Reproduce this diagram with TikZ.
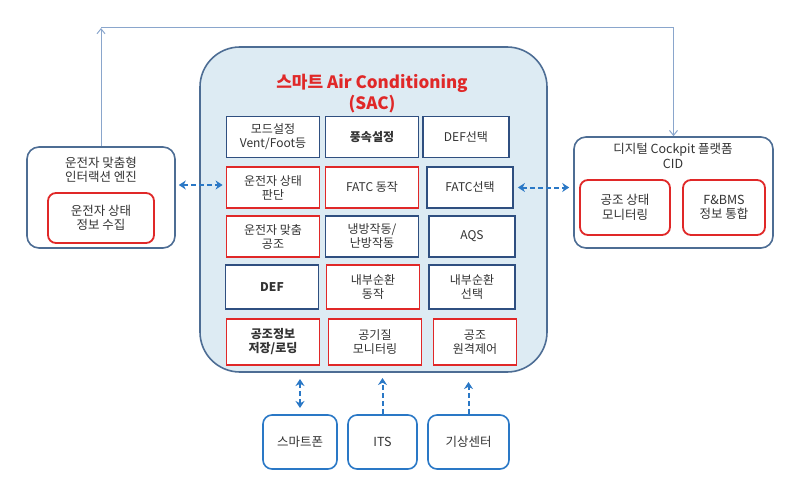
\documentclass[tikz,border=0pt]{standalone}
\usepackage{fontspec}
\setmainfont{Noto Sans CJK KR}
\usetikzlibrary{arrows.meta}
\definecolor{sacfill}{HTML}{DDEBF3}
\definecolor{sacline}{HTML}{4D6D94}
\definecolor{navy}{HTML}{2F4F80}
\definecolor{redbox}{HTML}{E02828}
\definecolor{linkblue}{HTML}{2A78C6}
\definecolor{topline}{HTML}{8AA6CC}
\definecolor{txt}{HTML}{333333}
\begin{document}
\begin{tikzpicture}[x=1pt,y=-1pt,
  every node/.style={text=txt, font=\fontsize{12.5}{14.5}\selectfont, align=center, inner sep=0pt},
  cell/.style={draw=navy, line width=1.8pt, fill=white, minimum width=93pt, minimum height=41pt, font=\fontsize{12}{14}\selectfont},
  redcell/.style={cell, draw=redbox},
  outer/.style={draw=sacline, line width=1.6pt, fill=white, rounded corners=12pt},
  inner/.style={draw=redbox, line width=1.8pt, fill=white, rounded corners=8pt},
  ext/.style={draw=linkblue, line width=1.6pt, fill=white, rounded corners=9pt, minimum width=74pt, minimum height=54pt},
  link/.style={draw=linkblue, line width=2pt, dash pattern=on 5pt off 3pt, {Stealth[length=7pt,width=9pt]}-{Stealth[length=7pt,width=9pt]}},
  uplink/.style={link, -{Stealth[length=7pt,width=9pt]}},
  feed/.style={draw=topline, line width=1pt, -{Straight Barb[length=5pt,width=8pt]}}]
\useasboundingbox (0,0) rectangle (807,495);
% Smart Air Conditioning
\node[draw=sacline, line width=1.6pt, fill=sacfill, rounded corners=40pt, minimum width=347pt, minimum height=325pt] (sac) at (373.5,209.5) {};
\node[text=redbox, font=\fontsize{17}{21}\selectfont\bfseries] (title) at (372,94) {스마트 Air Conditioning\\(SAC)};
% function grid
\node[cell] (g11) at (273,137) {모드설정\\Vent/Foot등};
\node[cell] (g12) at (372,137) {\bfseries 풍속설정};
\node[cell, minimum width=86pt] (g13) at (466,137) {DEF선택};
\node[redcell] (g21) at (273,187.5) {운전자 상태\\판단};
\node[redcell] (g22) at (372,187.5) {FATC 동작};
\node[cell, minimum width=86pt] (g23) at (470,187.5) {FATC선택};
\node[redcell] (g31) at (273,236.5) {운전자 맞춤\\공조};
\node[cell] (g32) at (372,236.5) {냉방작동/\\난방작동};
\node[cell, minimum width=86pt] (g33) at (472,236.5) {AQS};
\node[cell, minimum height=44pt] (g41) at (272,287) {\bfseries DEF};
\node[redcell, minimum height=44pt] (g42) at (373,287) {내부순환\\동작};
\node[cell, minimum width=86pt, minimum height=44pt] (g43) at (472,287) {내부순환\\선택};
\node[redcell, minimum height=46pt] (g51) at (273,342) {\bfseries 공조정보\\\bfseries 저장/로딩};
\node[redcell, minimum height=46pt] (g52) at (375,342) {공기질\\모니터링};
\node[redcell, minimum width=83pt, minimum height=46pt] (g53) at (475,342) {공조\\원격제어};
% driver interaction engine
\node[outer, minimum width=148pt, minimum height=101pt] (drv) at (101,197.5) {};
\node (drvtitle) at (101,170) {운전자 맞춤형\\인터랙션 엔진};
\node[inner, minimum width=106pt, minimum height=50pt] (drvin) at (101,218) {운전자 상태\\정보 수집};
% digital cockpit
\node[outer, minimum width=199pt, minimum height=111pt] (cid) at (673.5,192.5) {};
\node (cidtitle) at (673,156) {디지털 Cockpit 플랫폼\\CID};
\node[inner, minimum width=90pt, minimum height=55pt] (cidmon) at (625,207.5) {공조 상태\\모니터링};
\node[inner, minimum width=82pt, minimum height=55pt] (cidbms) at (724,207.5) {F\&BMS\\정보 통합};
% external sources
\node[ext] (phone) at (300,442) {스마트폰};
\node[ext, minimum width=69pt] (its) at (382.5,442) {ITS};
\node[ext, minimum width=81pt] (weather) at (468.5,442) {기상센터};
% connectors
\coordinate (topl) at (drv.north |- 0,28);
\coordinate (topr) at (cid.north |- 0,28);
\draw[feed] (drv.north) -- (topl);
\draw[feed] (topl) -- (topr) -- (cid.north);
\draw[link] ([xshift=3pt]drv.east |- 0,185) -- ([xshift=-3pt]g21.west |- 0,185);
\draw[link] ([xshift=4pt]g23.east) -- ([xshift=-4pt]cid.west |- g23.east);
\draw[link] (phone.north |- 0,408) -- (phone.north |- 0,379);
\draw[uplink] (its.north) -- (its.north |- 0,378);
\draw[uplink] (weather.north) -- (weather.north |- 0,382);
\end{tikzpicture}
\end{document}
